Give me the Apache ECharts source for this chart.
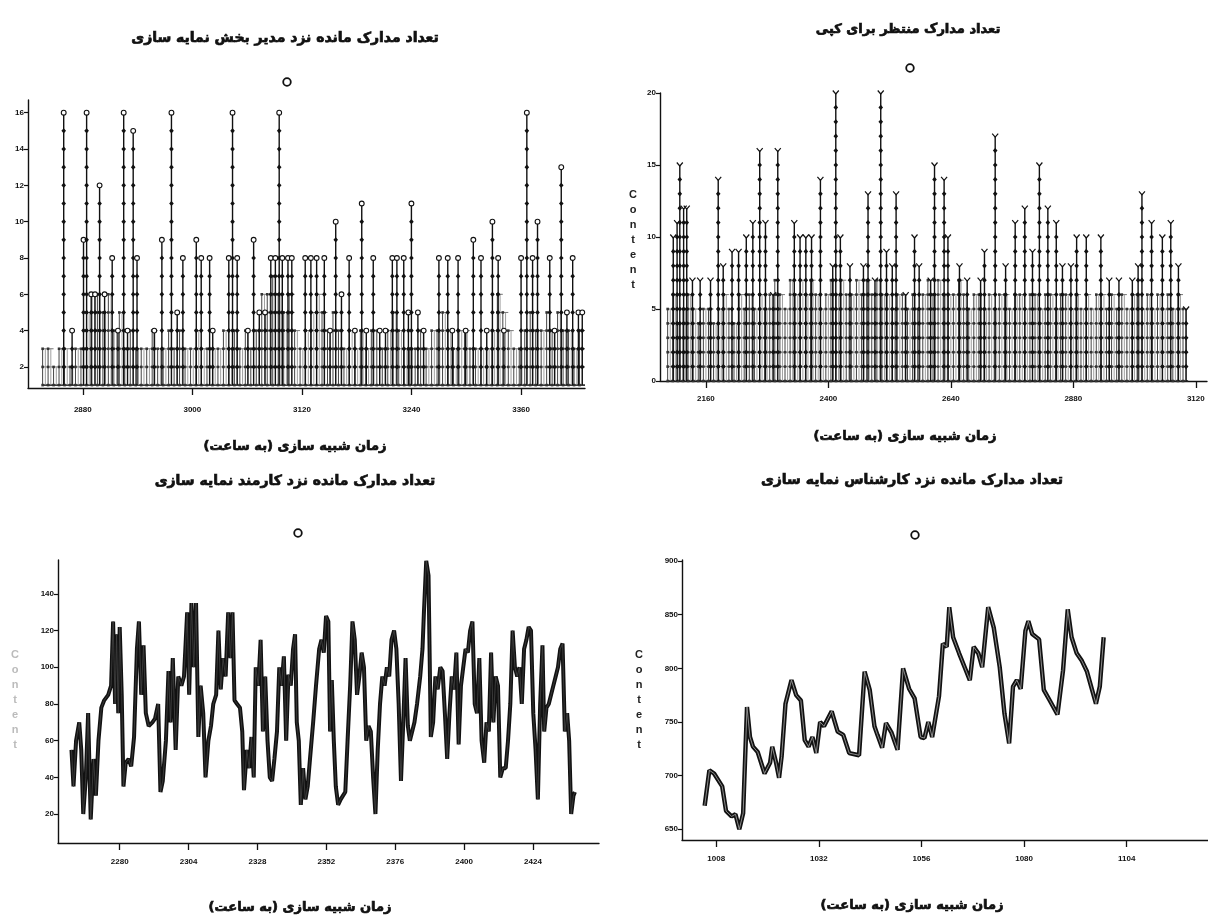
<!DOCTYPE html>
<html><head><meta charset="utf-8">
<script src="https://cdn.jsdelivr.net/npm/echarts@6/dist/echarts.min.js"></script>
<style>html,body{margin:0;padding:0;background:#fff}#c{width:1208px;height:923px}</style>
</head><body><div id="c"></div>
<script>
// ---------------- DATA ----------------
// Top-left: documents waiting at the indexing department manager (stems: time, peak count)
const tlStemTime = [2859.1,2868.3,2880.8,2884.2,2889.2,2893.4,2898.4,2903.9,2912.2,2918.5,
  2924.8,2929.0,2935.2,2939.4,2958.3,2966.6,2977.1,2983.4,2989.6,3004.3,
  3009.7,3018.9,3022.3,3039.9,3044.0,3049.1,3060.8,3067.1,3073.3,3079.6,
  3085.9,3090.9,3095.1,3098.5,3104.7,3108.9,3123.6,3129.8,3136.1,3144.5,
  3150.8,3157.0,3163.3,3171.7,3178.0,3185.5,3190.5,3198.1,3205.2,3211.5,
  3219.0,3224.0,3231.5,3236.6,3239.9,3247.0,3253.3,3270.0,3279.7,3284.7,
  3291.0,3299.3,3307.7,3316.1,3322.4,3328.6,3334.9,3341.2,3360.0,3366.3,
  3372.6,3378.0,3391.4,3396.7,3404.0,3410.2,3416.5,3422.8,3427.0];
const tlStemPeak = [16,4,9,16,6,6,12,6,8,4,
  16,4,15,8,4,9,16,5,8,9,
  8,8,4,8,16,8,4,9,5,5,
  8,8,16,8,8,8,8,8,8,8,
  4,10,6,8,4,11,4,8,4,4,
  8,8,8,5,11,5,4,8,8,4,
  8,4,9,8,4,10,8,4,8,16,
  8,10,8,4,13,5,8,5,5];
const tlBandStart = 2836, tlBandStep = 6;
const tlBandHeight = [3,3,2,3,3,2,3,3, 5,6,6,5,6,4,5,3, 4,3,3,3,4,3,3,4, 3,4,3,3,4,3,3,3,
  3,4,3,4,3,4,3,4, 6,6,7,6,5,6,4,3, 4,5,6,5,4,5,4,3, 4,3,4,3,4,4,3,4,
  5,4,3,3,3,4,3,4, 4,5,4,3,4,4,3,3, 3,3,4,6,5,4,3,3, 4,5,4,4,5,4,5,4, 4,3,4];
const tlXTicks = [2880,3000,3120,3240,3360];
const tlYTicks = [2,4,6,8,10,12,14,16];

// Top-right: documents waiting for copying
const trStemTime = [2096.0,2103.5,2108.8,2116.3,2122.4,2133.6,2148.7,2169.0,2184.1,2193.9,
  2211.2,2224.0,2239.1,2251.9,2265.4,2276.7,2291.8,2300.8,2333.2,2344.5,
  2355.8,2367.0,2384.4,2408.5,2414.5,2423.5,2442.3,2468.7,2477.7,2491.3,
  2502.6,2513.9,2525.2,2532.7,2551.5,2568.8,2577.9,2600.4,2608.0,2626.8,
  2634.3,2656.9,2672.0,2698.3,2705.9,2726.9,2747.3,2766.1,2784.9,2800.0,
  2813.5,2830.1,2846.6,2858.7,2875.3,2886.5,2905.4,2934.0,2950.5,2969.4,
  2995.7,3007.0,3014.5,3033.4,3054.5,3071.0,3086.0,3101.1];
const trStemPeak = [10,11,15,12,12,7,7,7,14,8,
  9,9,10,11,16,11,6,16,11,10,
  10,10,14,8,20,10,8,8,13,7,
  20,9,8,13,6,10,8,7,15,14,
  10,8,7,7,9,17,8,11,12,9,
  15,12,11,8,8,10,10,10,7,7,
  7,8,13,11,10,11,8,5];
const trBandStart = 2085, trBandStep = 10;
const trBandHeight = [5,6,4,5,6,5,4,5, 5,4,5,6,5,4,6,5, 6,5,6,5,6,7,6,5, 7,6,7,6,7,6,5,6,
  7,6,7,6,6,7,6,7, 6,7,6,6,5,6,6,5, 6,5,6,7,6,7,6,6, 6,7,6,5,6,6,5,6,
  5,6,6,5,6,6,5,6, 6,5,6,6,5,6,6,5, 6,5,6,5,6,6,5,6, 5,6,5,6,6,5,6,5, 6,5,6,5,6,5];
const trXTicks = [2160,2400,2640,2880,3120];
const trYTicks = [0,5,10,15,20];

// Bottom-left: documents waiting at the indexing clerk
const blTime = [2263.2,2263.9,2264.8,2265.9,2266.6,2267.3,2268.2,2269.0,2269.9,2270.9,
  2271.7,2272.6,2273.6,2274.6,2276.0,2277.0,2277.7,2278.4,2278.9,2279.5,
  2280.0,2280.7,2281.3,2282.1,2283.1,2284.0,2285.0,2286.0,2286.7,2287.5,
  2288.3,2289.1,2290.1,2291.4,2292.3,2293.4,2294.2,2295.0,2296.1,2297.0,
  2297.7,2298.5,2299.5,2300.4,2301.5,2302.4,2303.5,2304.2,2305.0,2305.8,
  2306.6,2307.4,2308.2,2309.1,2309.9,2310.9,2311.8,2312.6,2313.6,2314.4,
  2315.2,2316.0,2316.9,2317.8,2318.6,2319.3,2320.0,2320.9,2321.9,2322.7,
  2323.3,2324.3,2325.1,2325.9,2326.7,2327.4,2328.3,2329.1,2329.9,2330.7,
  2331.5,2332.3,2333.1,2333.9,2334.8,2335.6,2336.4,2337.2,2338.0,2338.8,
  2339.6,2340.4,2341.1,2341.7,2342.4,2343.1,2343.9,2344.7,2345.5,2346.3,
  2347.4,2348.4,2349.5,2350.3,2351.1,2351.9,2352.7,2353.3,2353.9,2354.6,
  2355.3,2356.1,2357.0,2357.8,2358.6,2359.4,2360.3,2361.1,2361.9,2362.7,
  2363.5,2364.3,2365.1,2365.9,2366.7,2367.5,2368.3,2369.1,2369.9,2370.7,
  2371.5,2372.3,2373.1,2373.9,2374.7,2375.6,2376.4,2377.2,2378.0,2378.8,
  2379.6,2380.4,2381.1,2381.9,2382.7,2383.6,2384.7,2385.5,2386.0,2386.8,
  2387.6,2388.4,2389.2,2390.0,2390.8,2391.7,2392.5,2393.3,2394.1,2394.9,
  2395.7,2396.5,2397.3,2398.1,2398.9,2399.7,2400.5,2401.3,2402.1,2402.9,
  2403.7,2404.5,2405.3,2406.1,2407.0,2407.8,2408.6,2409.4,2410.2,2411.0,
  2411.8,2412.6,2413.5,2414.5,2415.3,2416.1,2416.9,2417.7,2418.5,2419.3,
  2420.1,2420.9,2421.7,2422.5,2423.3,2424.1,2424.9,2425.7,2426.5,2427.3,
  2427.9,2428.7,2429.5,2430.3,2431.1,2431.9,2432.7,2433.5,2434.3,2435.1,
  2435.9,2436.6,2437.3,2438.1,2438.6];
const blValue = [55,35,60,70,55,20,40,75,17,50,
  30,60,78,82,85,90,125,80,118,75,
  122,85,35,48,50,46,62,110,125,85,
  112,75,68,70,72,80,32,38,60,98,
  70,105,55,95,90,95,130,85,135,100,
  135,62,90,75,40,60,68,80,85,120,
  88,105,95,130,105,130,82,80,78,65,
  33,55,45,62,40,100,90,115,65,95,
  60,40,38,50,65,100,90,106,60,96,
  90,110,118,70,60,25,45,28,35,50,
  70,90,110,115,108,128,125,65,93,60,
  35,25,28,30,32,60,90,125,115,85,
  95,108,100,60,68,65,40,20,55,80,
  95,90,100,95,115,120,110,80,38,70,
  105,68,60,65,70,80,95,110,130,158,
  150,62,70,95,88,100,98,75,50,75,
  95,88,108,58,90,100,110,108,120,125,
  80,75,105,60,48,70,65,108,70,95,
  90,40,45,45,60,80,120,100,95,100,
  80,110,115,122,120,75,55,28,80,112,
  65,78,80,85,90,95,100,110,113,65,
  75,60,20,30,32];
const blXTicks = [2280,2304,2328,2352,2376,2400,2424];
const blYTicks = [20,40,60,80,100,120,140];

// Bottom-right: documents waiting at the indexing expert
const brTime = [1005.3,1006.4,1007.5,1009.4,1010.3,1011.6,1012.5,1013.4,1014.3,1015.2,
  1015.9,1016.6,1017.7,1019.3,1020.6,1021.1,1022.0,1022.7,1023.3,1024.2,
  1025.6,1026.7,1027.8,1028.7,1029.6,1030.5,1031.4,1032.3,1033.2,1035.0,
  1036.4,1037.7,1039.1,1041.4,1042.7,1043.9,1045.0,1045.7,1046.8,1047.7,
  1049.0,1050.4,1051.7,1053.1,1054.4,1055.8,1056.7,1057.6,1058.5,1060.1,
  1061.0,1061.9,1062.5,1063.4,1064.8,1066.1,1067.3,1068.2,1069.3,1070.2,
  1071.6,1072.9,1074.3,1075.4,1076.5,1077.4,1078.3,1079.2,1080.3,1081.0,
  1081.9,1083.5,1084.6,1086.0,1087.8,1089.1,1090.2,1091.1,1092.3,1093.5,
  1094.7,1096.8,1097.7,1098.6];
const brValue = [672,705,702,690,667,662,664,650,665,764,
  736,727,722,702,712,727,712,698,718,767,
  789,775,770,733,727,736,721,750,746,760,
  741,738,721,719,797,780,746,738,726,749,
  740,724,800,781,772,736,735,750,736,774,
  823,820,857,829,814,801,789,820,814,801,
  857,838,801,758,730,783,789,781,835,844,
  832,827,780,770,757,798,855,829,814,807,
  797,767,783,829];
const brXTicks = [1008,1032,1056,1080,1104];
const brYTicks = [650,700,750,800,850,900];

const titles = {
  tl: 'تعداد مدارک مانده نزد مدیر بخش نمایه سازی',
  tr: 'تعداد مدارک منتظر برای کپی',
  bl: 'تعداد مدارک مانده نزد کارمند نمایه سازی',
  br: 'تعداد مدارک مانده نزد کارشناس نمایه سازی'
};
const xName = 'زمان شبیه سازی (به ساعت)';
const yName = 'Content';

// ---------------- RENDER ----------------
const RLM = '\u200F';
function bandData(start, step, heights, endT){
  return heights.map((h,i)=>[start+i*step, h, (i<heights.length-1? start+(i+1)*step : endT)]);
}
function stemRender(base, topShape){
  return function(params, api){
    const t = api.value(0), p = api.value(1);
    const b = api.coord([t, base]), top = api.coord([t, p]);
    const ch = [{type:'line', shape:{x1:b[0],y1:b[1],x2:top[0],y2:top[1]}, style:{stroke:'#111', lineWidth:1.4}}];
    for (let k = base+1; k < p; k++){
      const c = api.coord([t,k]);
      ch.push({type:'polygon', shape:{points:[[c[0],c[1]-2.6],[c[0]+2.3,c[1]],[c[0],c[1]+2.6],[c[0]-2.3,c[1]]]}, style:{fill:'#111'}});
    }
    if (topShape==='circle') ch.push({type:'circle', shape:{cx:top[0],cy:top[1],r:2.4}, style:{fill:'#fff',stroke:'#111',lineWidth:1.1}});
    else ch.push({type:'polyline', shape:{points:[[top[0]-3,top[1]-2.5],[top[0],top[1]+1],[top[0]+3,top[1]-2.5]]}, style:{stroke:'#111',lineWidth:1.2,fill:null}});
    return {type:'group', children:ch};
  };
}
function bandRender(base){
  return function(params, api){
    const t = api.value(0), h = api.value(1), t2 = api.value(2);
    const b = api.coord([t, base]), top = api.coord([t, h]);
    const ch = [{type:'line', shape:{x1:b[0],y1:b[1],x2:top[0],y2:top[1]}, style:{stroke:'#444', lineWidth:1}}];
    for (let k = base; k <= h; k++){
      const c1 = api.coord([t,k]), c2 = api.coord([t2,k]);
      ch.push({type:'line', shape:{x1:c1[0],y1:c1[1],x2:c2[0],y2:c2[1]}, style:{stroke: k===base?'#222':'#666', lineWidth: k===base?1.6:0.9}});
      const m = (c1[0]+c2[0])/2;
      ch.push({type:'line', shape:{x1:m,y1:c1[1],x2:m,y2:api.coord([t,Math.max(base,k-1)])[1]}, style:{stroke:'#888', lineWidth:0.8}});
      ch.push({type:'rect', shape:{x:c1[0]-1.3,y:c1[1]-1.3,width:2.6,height:2.6}, style:{fill:'#333'}});
    }
    return {type:'group', children:ch};
  };
}
const plain = v => String(v);
function xAxis(idx, min, max, ticks, margin){
  return {type:'value', gridIndex:idx, min, max,
    axisLine:{show:true, onZero:false, lineStyle:{color:'#111', width:1.4}},
    axisTick:{show:true, length:7, customValues:ticks, lineStyle:{color:'#111', width:1.3}},
    axisLabel:{customValues:ticks, formatter:plain, fontSize:8, fontWeight:'bold', color:'#111', margin:margin, fontFamily:'Liberation Sans'},
    splitLine:{show:false}};
}
function yAxis(idx, min, max, ticks){
  return {type:'value', gridIndex:idx, min, max,
    axisLine:{show:true, onZero:false, lineStyle:{color:'#111', width:1.4}},
    axisTick:{show:true, length:4, customValues:ticks, lineStyle:{color:'#111', width:1.2}},
    axisLabel:{customValues:ticks, formatter:plain, fontSize:8, fontWeight:'bold', color:'#111', margin:4, fontFamily:'Liberation Sans'},
    splitLine:{show:false}};
}
function ptxt(text, x, y, size){
  return {type:'text', x, y, style:{text:RLM+text+RLM, font:'bold '+size+'px "DejaVu Sans"', fill:'#111', stroke:'#111', lineWidth:0.7, align:'center', verticalAlign:'middle'}};
}
function ring(x, y){
  return {type:'circle', shape:{cx:x, cy:y, r:3.8}, style:{fill:'none', stroke:'#111', lineWidth:1.8}};
}
function vtxt(x, y, color){
  return {type:'text', x, y, style:{text:yName.split('').join('\n'), font:'bold 11px "Liberation Sans"', lineHeight:15, fill:color, align:'center', verticalAlign:'middle'}};
}

const chart = echarts.init(document.getElementById('c'), null, {renderer:'canvas'});
chart.setOption({
  animation:false,
  backgroundColor:'#fff',
  grid:[
    {left:28, top:100, width:557, height:288, outerBoundsMode:'none'},
    {left:660, top:93, width:547, height:288, outerBoundsMode:'none'},
    {left:58, top:560, width:541, height:283, outerBoundsMode:'none'},
    {left:682, top:560, width:526, height:280, outerBoundsMode:'none'}
  ],
  xAxis:[
    xAxis(0, 2820, 3430, tlXTicks, 18),
    xAxis(1, 2070, 3142, trXTicks, 14),
    xAxis(2, 2258.5, 2447, blXTicks, 15),
    xAxis(3, 1000, 1123, brXTicks, 15)
  ],
  yAxis:[
    yAxis(0, 0.84, 16.7, tlYTicks),
    yAxis(1, 0, 20, trYTicks),
    yAxis(2, 4.2, 158.5, blYTicks),
    yAxis(3, 640, 901, brYTicks)
  ],
  series:[
    {type:'custom', name:'tl-band', xAxisIndex:0, yAxisIndex:0, renderItem:bandRender(1), data:bandData(tlBandStart, tlBandStep, tlBandHeight, 3430), silent:true},
    {type:'custom', name:'tl-stems', xAxisIndex:0, yAxisIndex:0, renderItem:stemRender(1,'circle'), data:tlStemTime.map((t,i)=>[t, tlStemPeak[i]]), silent:true},
    {type:'custom', name:'tr-band', xAxisIndex:1, yAxisIndex:1, renderItem:bandRender(0), data:bandData(trBandStart, trBandStep, trBandHeight, 3105), silent:true},
    {type:'custom', name:'tr-stems', xAxisIndex:1, yAxisIndex:1, renderItem:stemRender(0,'v'), data:trStemTime.map((t,i)=>[t, trStemPeak[i]]), silent:true},
    {type:'line', name:'bl', xAxisIndex:2, yAxisIndex:2, data:blTime.map((t,i)=>[t, blValue[i]]), showSymbol:false, lineStyle:{color:'#111', width:4}, silent:true},
    {type:'line', name:'bl-core', xAxisIndex:2, yAxisIndex:2, data:blTime.map((t,i)=>[t, blValue[i]]), showSymbol:false, lineStyle:{color:'#444', width:0.8}, silent:true},
    {type:'line', name:'br', xAxisIndex:3, yAxisIndex:3, data:brTime.map((t,i)=>[t, brValue[i]]), showSymbol:false, lineStyle:{color:'#111', width:4.4}, silent:true},
    {type:'line', name:'br-core', xAxisIndex:3, yAxisIndex:3, data:brTime.map((t,i)=>[t, brValue[i]]), showSymbol:false, lineStyle:{color:'#999', width:0.9}, silent:true}
  ],
  graphic:[
    ptxt(titles.tl, 285, 38, 14),
    ptxt(titles.tr, 908, 30, 13),
    ptxt(titles.bl, 295, 481, 14),
    ptxt(titles.br, 912, 480, 14),
    ring(287, 82),
    ring(910, 68),
    ring(298, 533),
    ring(915, 535),
    ptxt(xName, 295, 447, 13),
    ptxt(xName, 905, 437, 13),
    ptxt(xName, 300, 908, 13),
    ptxt(xName, 912, 906, 13),
    vtxt(633, 240, '#222'),
    vtxt(639, 700, '#222'),
    vtxt(15, 700, '#bbb')
  ]
});
</script>
</body></html>
